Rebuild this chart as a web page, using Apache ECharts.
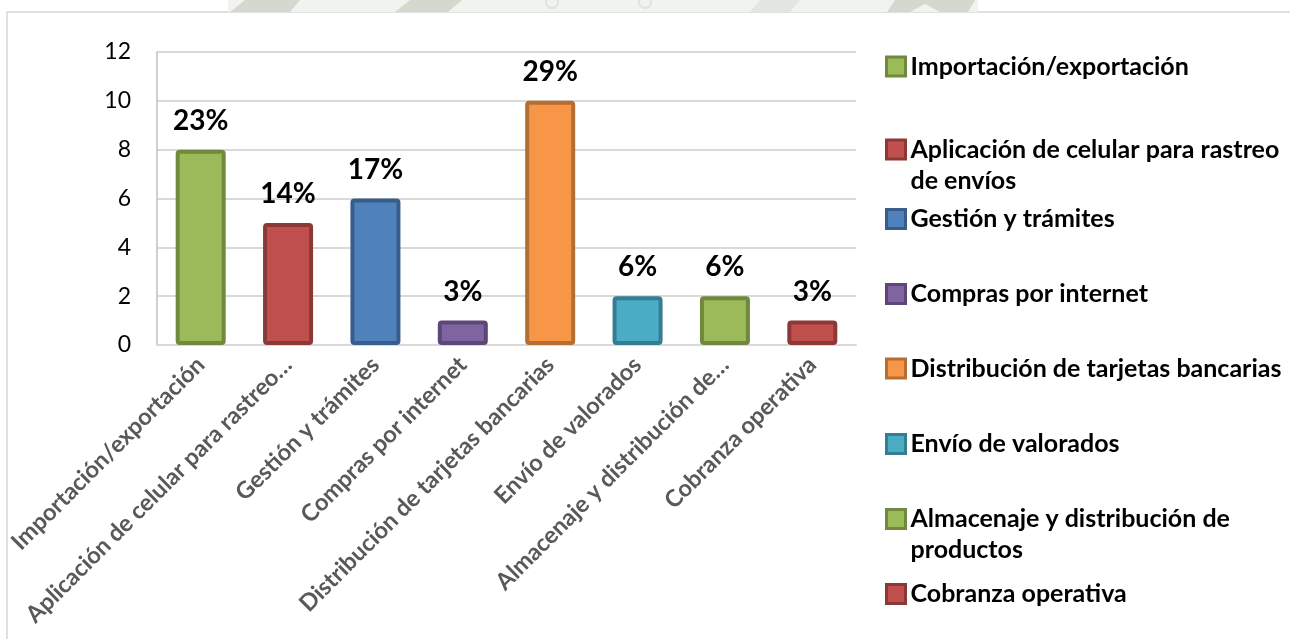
<!DOCTYPE html>
<html>
<head>
<meta charset="utf-8">
<script src="https://cdn.jsdelivr.net/npm/echarts@6/dist/echarts.min.js"></script>
<style>
  html, body { margin: 0; padding: 0; background: #ffffff; }
  #chart { width: 1290px; height: 639px; }
</style>
</head>
<body>
<div id="chart"></div>
<script>
// Servicios considerados (número de respuestas por servicio)
const categories = [
  'Importación/exportación',
  'Aplicación de celular para rastreo de envíos',
  'Gestión y trámites',
  'Compras por internet',
  'Distribución de tarjetas bancarias',
  'Envío de valorados',
  'Almacenaje y distribución de productos',
  'Cobranza operativa'
];
const values = [8, 5, 6, 1, 10, 2, 2, 1];

// Etiquetas del eje X (recortadas) y de la leyenda (con salto de línea)
const tickLabels = [
  'Importación/exportación',
  'Aplicación de celular para rastreo…',
  'Gestión y trámites',
  'Compras por internet',
  'Distribución de tarjetas bancarias',
  'Envío de valorados',
  'Almacenaje y distribución de…',
  'Cobranza operativa'
];
const legendLabels = [
  'Importación/exportación',
  'Aplicación de celular para rastreo\nde envíos',
  'Gestión y trámites',
  'Compras por internet',
  'Distribución de tarjetas bancarias',
  'Envío de valorados',
  'Almacenaje y distribución de\nproductos',
  'Cobranza operativa'
];
const yTicks = [0, 2, 4, 6, 8, 10, 12];

// Estilo
const fillColors   = ['#9BBB59', '#C0504D', '#4F81BD', '#8064A2', '#F79646', '#4BACC6', '#9BBB59', '#C0504D'];
const borderColors = ['#71893F', '#8C3836', '#385D8A', '#5C4776', '#B66D31', '#357D91', '#71893F', '#8C3836'];
const legendCenterY = [66.5, 149.5, 219, 294, 368.5, 444, 519, 594];
const LEGEND_LINE = 31;
const FONT = 'Lato, "Open Sans", sans-serif';

const total = values.reduce((a, b) => a + b, 0);
const pct = v => Math.round(v / total * 100) + '%';

const series = categories.map((name, i) => ({
  name: name,
  type: 'bar',
  barWidth: 50,
  barGap: '-100%',
  data: values.map((v, j) => (j === i ? v : '-')),
  itemStyle: {
    color: fillColors[i],
    borderColor: borderColors[i],
    borderWidth: 4,
    borderRadius: 2
  },
  label: {
    show: true,
    position: 'top',
    distance: 15,
    formatter: p => pct(p.value),
    fontFamily: FONT,
    fontWeight: 'bold',
    fontSize: 28,
    color: '#000000'
  },
  emphasis: { disabled: true }
}));

// Una leyenda por servicio; en las de dos líneas se antepone una línea vacía
// para que la primera línea quede centrada con el icono.
const legends = categories.map((name, i) => {
  const lines = legendLabels[i].split('\n').length;
  const text = lines === 1 ? legendLabels[i] : '\n' + legendLabels[i];
  return {
    data: [name],
    orient: 'vertical',
    left: 885,
    top: legendCenterY[i] - (lines === 1 ? LEGEND_LINE / 2 : 1.5 * LEGEND_LINE),
    padding: 0,
    itemWidth: 19,
    itemHeight: 19,
    itemGap: 0,
    selectedMode: false,
    icon: 'rect',
    itemStyle: { borderWidth: 3 },
    formatter: () => text,
    textStyle: {
      fontFamily: FONT,
      fontWeight: 'bold',
      fontSize: 25,
      color: '#000000',
      lineHeight: LEGEND_LINE
    }
  };
});

const chart = echarts.init(document.getElementById('chart'), null, { renderer: 'canvas' });
chart.setOption({
  backgroundColor: '#ffffff',
  animation: false,
  grid: { left: 157, right: 434, top: 52, bottom: 294, containLabel: false },
  legend: legends,
  xAxis: {
    type: 'category',
    data: categories,
    axisLine: { show: true, lineStyle: { color: '#d9d9d9', width: 2 } },
    axisTick: { show: false },
    axisLabel: {
      interval: 0,
      rotate: 45,
      margin: 16,
      formatter: (v, idx) => tickLabels[idx],
      fontFamily: FONT,
      fontWeight: 'bold',
      fontSize: 23.5,
      color: '#595959'
    }
  },
  yAxis: {
    type: 'value',
    min: yTicks[0],
    max: yTicks[yTicks.length - 1],
    interval: 2,
    axisLine: { show: true, lineStyle: { color: '#bfbfbf', width: 1.5 } },
    axisTick: { show: false },
    splitLine: { show: true, lineStyle: { color: '#d9d9d9', width: 2 } },
    axisLabel: {
      margin: 26,
      fontFamily: FONT,
      fontSize: 23,
      color: '#000000'
    }
  },
  graphic: [
    // marca de agua tenue sobre el marco
    { type: 'rect', shape: { x: 228, y: 0, width: 750, height: 12 }, style: { fill: '#f1f3ef' }, silent: true },
    { type: 'polygon', shape: { points: [[230, 12], [245, 0], [300, 0], [290, 12]] }, style: { fill: '#d3d9cf' }, silent: true },
    { type: 'polygon', shape: { points: [[395, 12], [410, 0], [462, 0], [448, 12]] }, style: { fill: '#d3d9cf' }, silent: true },
    { type: 'polygon', shape: { points: [[750, 12], [760, 0], [800, 0], [790, 12]] }, style: { fill: '#e3e6e0' }, silent: true },
    { type: 'polygon', shape: { points: [[887, 12], [895, 0], [975, 0], [968, 12], [940, 12], [925, 4], [910, 12]] }, style: { fill: '#d3d9cf' }, silent: true },
    { type: 'circle', shape: { cx: 552, cy: 2, r: 6 }, style: { fill: 'none', stroke: '#dfe3dc', lineWidth: 2 }, silent: true },
    { type: 'circle', shape: { cx: 645, cy: 2, r: 6 }, style: { fill: 'none', stroke: '#dfe3dc', lineWidth: 2 }, silent: true },
    // marco del gráfico
    { type: 'rect', shape: { x: 7, y: 12, width: 1400, height: 800 }, style: { fill: 'none', stroke: '#d6d6d6', lineWidth: 1.5 }, silent: true, z: -1 }
  ],
  series: series
});
</script>
</body>
</html>
